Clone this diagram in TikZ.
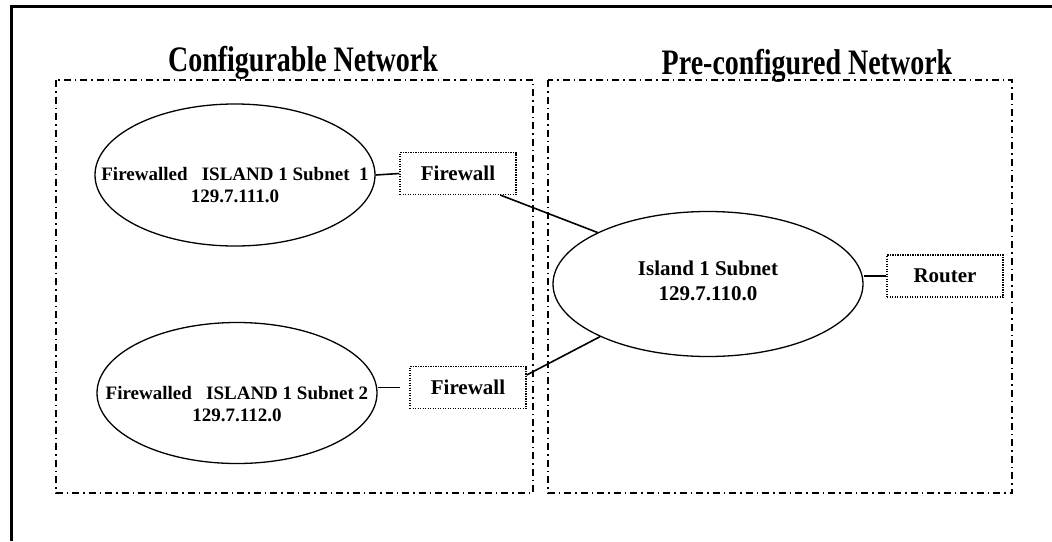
\documentclass[tikz,border=0pt]{standalone}
\usepackage{fontspec}
\setmainfont{Liberation Serif}
\usetikzlibrary{positioning,shapes}
\newcommand*{\netTop}{80}
\newcommand*{\netBot}{493}
\newcommand*{\pageW}{1052}
\newcommand*{\pageH}{541}
\newcommand*{\tall}[1]{\scalebox{1}[1.28]{#1}}

\begin{document}
\begin{tikzpicture}[x=1pt,y=-1pt,
    netbox/.style={line width=1.4pt, dash pattern=on 7pt off 4pt on 1.5pt off 4pt},
    nettitle/.style={anchor=base, font=\fontsize{28}{34}\selectfont\bfseries},
    subnet/.style={draw, ellipse, line width=1.3pt, inner sep=0pt},
    subtext/.style={align=center, font=\fontsize{19}{22}\selectfont\bfseries},
    device/.style={draw, line width=1.1pt, dash pattern=on 1.1pt off 1.4pt,
        minimum width=116pt, minimum height=42pt, inner sep=0pt,
        font=\fontsize{21}{25}\selectfont\bfseries},
    link/.style={line width=1.6pt}]
    \useasboundingbox (0,0) rectangle (\pageW,\pageH);
    \draw [line width=3pt] (\pageW,6) -- (11,6) -- (11,\pageH);

    % network areas
    \foreach \xl/\xr in {56/533, 548/1012} {
        \draw [netbox] (\xl,\netTop) rectangle (\xr,\netBot);
    }
    \node [nettitle] (cfgtitle) at (303,71) {\tall{Configurable Network}};
    \node [nettitle] (pretitle) at (807,74) {\tall{Pre-configured Network}};

    % subnets
    \node [subnet, minimum width=280pt, minimum height=142pt] (sub1) at (235,175) {};
    \node [subtext] (sub1txt) at ([yshift=-10.5pt]sub1.center) {Firewalled\ \ \ ISLAND 1 Subnet\ \ 1\\129.7.111.0};
    \node [subnet, minimum width=280pt, minimum height=141pt] (sub2) at (237,393) {};
    \node [subtext] (sub2txt) at ([yshift=-11.5pt]sub2.center) {Firewalled\ \ \ ISLAND 1 Subnet 2\\129.7.112.0};
    \node [subnet, minimum width=310pt, minimum height=145pt] (island) at (708,284) {};
    \node [subtext, font=\fontsize{21}{25}\selectfont\bfseries] (islandtxt) at (708,281) {Island 1 Subnet\\129.7.110.0};

    % devices
    \node [device] (fw1) at (458,173.5) {Firewall};
    \node [device] (fw2) at (468,387.5) {Firewall};
    \node [device] (router) at (945,276) {Router};

    \draw [link] (sub1.east) -- (fw1.west);
    \draw [link, shorten >=9pt] (sub2.east |- fw2.west) -- (fw2.west);
    \draw [link] (fw1.-27.7) -- (island.155.5);
    \draw [link] (fw2.12) -- (island.206.3);
    \draw [link] (island.east |- router.west) -- (router.west);
\end{tikzpicture}
\end{document}
